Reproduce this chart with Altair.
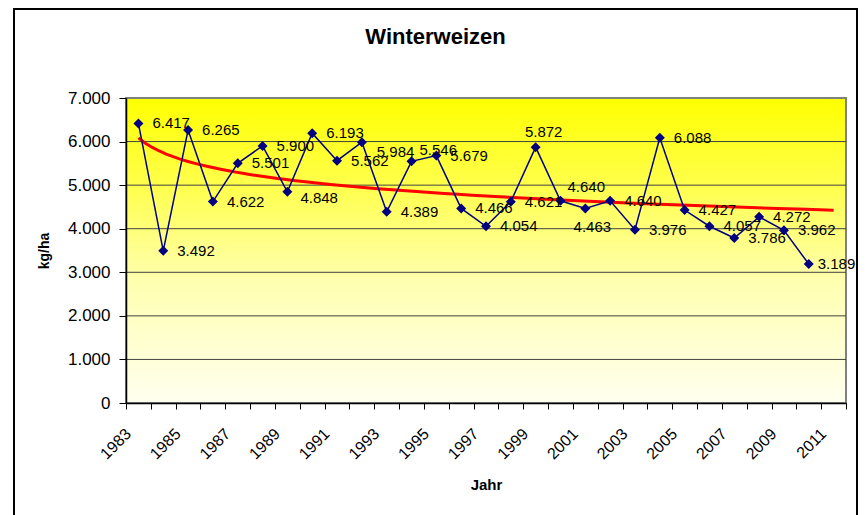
import altair as alt
import pandas as pd

# ---------------- data ----------------
chart_title = "Winterweizen"
x_title = "Jahr"
y_title = "kg/ha"

years = list(range(1983, 2011))
yields = [6417, 3492, 6265, 4622, 5501, 5900, 4848, 6193, 5562, 5984,
          4389, 5546, 5679, 4466, 4054, 4621, 5872, 4640, 4463, 4640,
          3976, 6088, 4427, 4057, 3786, 4272, 3962, 3189]
axis_years = list(range(1983, 2012))          # category slots incl. 2011
y_ticks = [0, 1000, 2000, 3000, 4000, 5000, 6000, 7000]

# ---------------- layout / style ----------------
W, H = 720, 305
FONT = "Liberation Sans, Arial, sans-serif"
NAVY = "#000080"

# per-label nudges (dx, dy, align) for labels that were moved in the original
LABEL_NUDGES = {
    1989: (13, 6, "left"),
    1992: (15, 10, "left"),
    1994: (8, -11, "left"),
    1999: (8, -15, "center"),
    2000: (7, -14, "left"),
    2001: (7, 18, "center"),
    2010: (9, 0, "left"),
}

df = pd.DataFrame({"Jahr": years, "Ertrag": yields})
grid_df = pd.DataFrame({"Ertrag": y_ticks[1:-1]})
one = pd.DataFrame({"a": [0]})

x_scale = alt.Scale(domain=[axis_years[0] - 0.5, axis_years[-1] + 0.5], nice=False, zero=False)
y_scale = alt.Scale(domain=[y_ticks[0], y_ticks[-1]], nice=False)

x_tick_vals = [y - 0.5 for y in axis_years] + [axis_years[-1] + 0.5]

x_axis = alt.Axis(
    values=x_tick_vals,
    labelExpr="(datum.value + 0.5) % 2 == 1 ? toString(datum.value + 0.5) : ''",
    labelAngle=315, labelAlign="right", labelBaseline="middle",
    labelOffset=2, labelPadding=22, labelOverlap=False, labelFlush=False, labelBound=False,
    labelFont=FONT, labelFontSize=16, labelColor="black",
    tickSize=6, tickColor="black", tickWidth=1,
    domainColor="black", domainWidth=1.5, grid=False,
    title=x_title, titleX=W / 2, titleY=81, titleFont=FONT, titleFontSize=15,
    titleFontWeight="bold", titleColor="black", titleAlign="center", titleBaseline="middle",
    zindex=1,
)
y_axis = alt.Axis(
    values=y_ticks,
    labelExpr="replace(format(datum.value, ',d'), ',', '.')",
    labelFont=FONT, labelFontSize=17, labelColor="black", labelPadding=9,
    tickSize=7, tickColor="black", tickWidth=1,
    domainColor="black", domainWidth=1.5, grid=False,
    title=y_title, titleX=-82, titleY=H / 2, titleAngle=270, titleFont=FONT,
    titleFontSize=14, titleFontWeight="bold", titleColor="black",
    titleAlign="center", titleBaseline="middle",
    zindex=1,
)

X = alt.X("Jahr:Q", scale=x_scale, axis=x_axis)
Y = alt.Y("Ertrag:Q", scale=y_scale, axis=y_axis)

gradient = alt.Gradient(
    gradient="linear",
    stops=[
        alt.GradientStop(color="#FFFF00", offset=0),
        alt.GradientStop(color="#FFFF50", offset=0.3),
        alt.GradientStop(color="#FFFFB0", offset=0.6),
        alt.GradientStop(color="#FFFFF0", offset=1),
    ],
    x1=0, x2=0, y1=0, y2=1,
)

frame = alt.Chart(one).mark_rect(fill=None, stroke="black", strokeWidth=2).encode(
    x=alt.value(-112), x2=alt.value(731), y=alt.value(-89), y2=alt.value(520)
)
background = alt.Chart(one).mark_rect(fill=gradient, stroke="#808080", strokeWidth=2).encode(
    x=alt.value(0), x2=alt.value(W), y=alt.value(0), y2=alt.value(H)
)
grid = alt.Chart(grid_df).mark_rule(color="#404040", strokeWidth=1).encode(y=Y)

trend = (
    alt.Chart(df)
    .transform_calculate(idx="datum.Jahr - 1982")
    .transform_regression("idx", "Ertrag", method="log", extent=[1, len(axis_years)])
    .transform_calculate(Jahr="datum.idx + 1982")
    .mark_line(color="#FF0000", strokeWidth=3)
    .encode(x=X, y=Y)
)

line = alt.Chart(df).mark_line(color=NAVY, strokeWidth=1.5).encode(x=X, y=Y)
points = alt.Chart(df).mark_point(shape="diamond", filled=True, size=100, color=NAVY, opacity=1).encode(x=X, y=Y)

label_base = alt.Chart(df).transform_calculate(
    lab="replace(format(datum.Ertrag, ',d'), ',', '.')"
)
labels = [
    label_base.transform_filter(
        alt.FieldOneOfPredicate(field="Jahr", oneOf=list(LABEL_NUDGES.keys()))
        .__invert__()
    ).mark_text(align="left", baseline="middle", dx=14, font=FONT, fontSize=15, color="black")
    .encode(x=X, y=Y, text="lab:N")
]
for yr, (dx, dy, al) in LABEL_NUDGES.items():
    labels.append(
        label_base.transform_filter(alt.datum.Jahr == yr)
        .mark_text(align=al, baseline="middle", dx=dx, dy=dy, font=FONT, fontSize=15, color="black")
        .encode(x=X, y=Y, text="lab:N")
    )

title_mark = alt.Chart(one).mark_text(
    text=chart_title, font=FONT, fontSize=22, fontWeight="bold", color="black",
    align="center", baseline="alphabetic",
).encode(x=alt.value(309.5), y=alt.value(-54))

chart = alt.layer(
    frame, background, grid, trend, line, points, *labels, title_mark
).properties(
    width=W, height=H,
    padding={"left": 118, "top": 90, "right": 12, "bottom": 112},
    autosize=alt.AutoSizeParams(type="none"),
).configure_view(stroke=None).configure(background="white")

chart.save("out.html", embed_options={"renderer": "svg", "actions": False})
